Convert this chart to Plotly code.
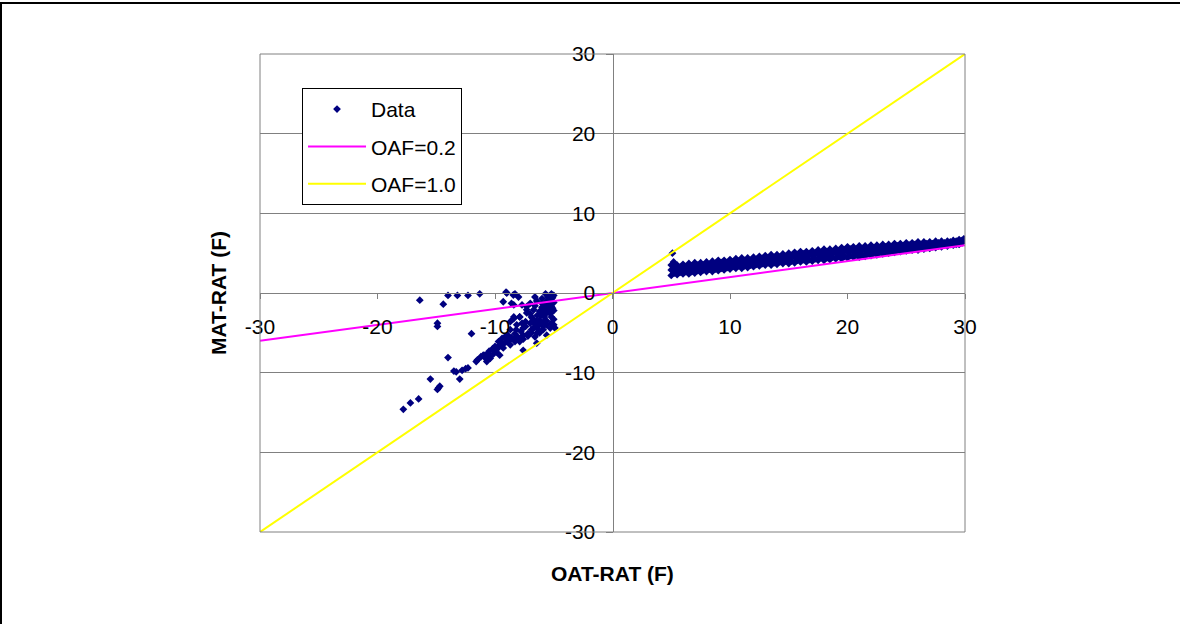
import plotly.graph_objects as go

# ---- measured points, OAT-RAT > 0 (economizer band) ----
# each column x carries several MAT-RAT readings
band_x = [
    5.0, 5.25, 5.5, 5.75, 6.0, 6.25, 6.5, 6.75, 7.0, 7.25,
    7.5, 7.75, 8.0, 8.25, 8.5, 8.75, 9.0, 9.25, 9.5, 9.75,
    10.0, 10.25, 10.5, 10.75, 11.0, 11.25, 11.5, 11.75, 12.0, 12.25,
    12.5, 12.75, 13.0, 13.25, 13.5, 13.75, 14.0, 14.25, 14.5, 14.75,
    15.0, 15.25, 15.5, 15.75, 16.0, 16.25, 16.5, 16.75, 17.0, 17.25,
    17.5, 17.75, 18.0, 18.25, 18.5, 18.75, 19.0, 19.25, 19.5, 19.75,
    20.0, 20.25, 20.5, 20.75, 21.0, 21.25, 21.5, 21.75, 22.0, 22.25,
    22.5, 22.75, 23.0, 23.25, 23.5, 23.75, 24.0, 24.25, 24.5, 24.75,
    25.0, 25.25, 25.5, 25.75, 26.0, 26.25, 26.5, 26.75, 27.0, 27.25,
    27.5, 27.75, 28.0, 28.25, 28.5, 28.75, 29.0, 29.25, 29.5, 29.75,
]
band_y = [
    [2.2, 2.9, 3.5], [2.5, 3.2], [2.3, 2.9, 3.5], [2.6, 3.2], [2.4, 3.0, 3.6],
    [2.7, 3.3], [2.4, 3.0, 3.7], [2.7, 3.4], [2.5, 3.1, 3.8], [2.8, 3.5],
    [2.6, 3.2, 3.8], [2.9, 3.5], [2.7, 3.3, 3.9], [3.0, 3.6], [2.7, 3.3, 4.0],
    [3.0, 3.7], [2.8, 3.4, 4.1], [3.1, 3.8], [2.9, 3.5, 4.1], [3.2, 3.8],
    [3.0, 3.6, 4.2], [3.3, 3.9], [3.1, 3.7, 4.3], [3.4, 4.0], [3.1, 3.7, 4.4],
    [3.4, 4.1], [3.2, 3.8, 4.4], [3.5, 4.1], [3.3, 3.9, 4.5], [3.6, 4.2],
    [3.4, 4.0, 4.6], [3.7, 4.3], [3.5, 4.1, 4.7], [3.8, 4.4], [3.5, 4.2, 4.8],
    [3.8, 4.5], [3.6, 4.2, 4.8], [3.9, 4.5], [3.7, 4.3, 4.9], [4.0, 4.6],
    [3.7, 4.4, 5.0], [4.0, 4.7], [3.8, 4.5, 5.1], [4.1, 4.8], [3.9, 4.5, 5.2],
    [4.2, 4.9], [3.9, 4.6, 5.2], [4.2, 4.9], [4.0, 4.7, 5.3], [4.3, 5.0],
    [4.1, 4.8, 5.4], [4.4, 5.1], [4.1, 4.8, 5.5], [4.4, 5.2], [4.2, 4.9, 5.5],
    [4.5, 5.2], [4.3, 5.0, 5.6], [4.6, 5.3], [4.3, 5.0, 5.7], [4.6, 5.4],
    [4.4, 5.1, 5.8], [4.7, 5.5], [4.5, 5.2, 5.8], [4.8, 5.5], [4.5, 5.2, 5.9],
    [4.8, 5.6], [4.6, 5.3, 5.9], [4.9, 5.6], [4.7, 5.4, 6.0], [5.0, 5.7],
    [4.8, 5.4, 6.0], [5.1, 5.7], [4.9, 5.5, 6.1], [5.2, 5.8], [5.0, 5.6, 6.1],
    [5.3, 5.8], [5.1, 5.6, 6.2], [5.4, 5.9], [5.2, 5.7, 6.2], [5.4, 5.9],
    [5.3, 5.8, 6.3], [5.5, 6.0], [5.4, 5.8, 6.3], [5.6, 6.1], [5.4, 5.9, 6.4],
    [5.6, 6.1], [5.5, 5.9, 6.4], [5.7, 6.2], [5.6, 6.0, 6.4], [5.8, 6.2],
    [5.7, 6.1, 6.5], [5.9, 6.3], [5.8, 6.2, 6.5], [6.0, 6.3], [5.9, 6.2, 6.5],
    [6.1, 6.4], [6.0, 6.3, 6.6], [6.1, 6.5], [6.1, 6.4, 6.7], [6.3, 6.6],
]
band_extra_x = [5.1, 5.2, 29.9]
band_extra_y = [5.0, 3.9, 6.8]

# ---- measured points, OAT-RAT < 0 ----
cold_x = [
    -17.8, -17.2, -16.5, -15.5, -14.9, -14.7, -14.8, -14.0, -13.5, -13.3,
    -13.0, -12.8, -12.5, -12.3, -12.0, -14.9, -14.9, -14.4, -16.4, -14.0,
    -13.2, -12.3, -11.3, -11.5, -11.6, -11.0, -10.6, -10.0, -9.6, -9.7,
    -9.15, -8.9, -8.7, -8.15, -8.3, -7.6, -7.4, -6.9, -7.2, -6.45,
    -6.2, -6.2, -5.6, -5.7, -5.3, -5.2, -5.2, -5.2, -5.6, -5.9,
    -6.6, -7.9, -8.7, -9.3, -9.9, -10.4, -9.0, -8.3, -8.0, -8.4,
    -9.3, -7.7, -7.3, -7.0, -6.6, -6.45, -6.0, -5.7, -5.2, -5.5,
    -6.7, -7.3, -7.9, -8.4, -8.7, -7.7, -6.7, -6.2, -6.9, -8.15,
    -9.0, -8.3, -7.6, -5.0, -5.0, -5.0, -5.0, -5.4, -5.8, -6.0,
    -6.4, -5.9, -5.3, -6.3, -6.8, -7.0, -6.6, -5.6, -9.06, -8.44,
    -8.6, -9.4, -10.1, -10.85, -10.7, -8.4, -4.9, -5.6, -6.45, -7.6,
    -9.6, -10.4, -7.9, -7.3, -6.0, -5.1, -5.4, -6.1, -5.8, -5.0,
    -10.2, -9.8, -9.5, -9.2, -9.0, -8.8, -8.6, -8.4, -8.2, -8.0,
    -7.8, -7.6, -7.4, -7.2, -7.0, -6.9, -6.7, -6.5, -6.4, -6.2,
    -6.1, -5.9, -5.8, -5.6, -5.5, -5.3, -5.1, -10.8, -11.2, -10.5,
]
cold_y = [
    -14.6, -13.8, -13.3, -10.8, -12.1, -11.7, -11.9, -8.1, -9.8, -9.9,
    -10.8, -9.7, -9.5, -9.4, -5.1, -3.8, -4.2, -1.4, -0.9, -0.3,
    -0.3, -0.3, -0.1, -8.4, -8.6, -7.8, -7.6, -6.7, -6.5, -6.1,
    -5.5, -5.3, -4.6, -4.0, -5.1, -4.4, -3.6, -3.0, -5.1, -4.2,
    -3.4, -2.3, -2.5, -1.5, -0.9, -1.7, -3.0, -3.8, -4.0, -4.6,
    -5.5, -6.1, -6.5, -6.9, -7.4, -8.0, 0.0, -0.1, -0.5, -1.5,
    -1.1, -1.5, -1.7, -1.3, -0.5, -1.0, -0.7, -0.1, -0.1, -0.5,
    -2.1, -2.5, -3.0, -3.0, -3.6, -3.8, -3.8, -5.0, -4.6, -5.5,
    -6.1, -6.1, -5.3, -0.3, -1.2, -2.2, -3.3, -2.0, -3.0, -1.8,
    -2.8, -3.7, -4.4, -4.6, -3.2, -2.6, -1.6, -1.0, 0.1, -0.25,
    -1.3, -5.7, -7.6, -7.8, -8.6, -3.2, -4.4, -5.3, -6.3, -7.2,
    -7.8, -8.2, -3.0, -2.1, -1.3, -0.6, -1.2, -2.4, -2.0, -4.0,
    -7.0, -7.0, -6.2, -6.3, -5.8, -6.0, -5.6, -5.8, -4.6, -5.6,
    -4.8, -5.8, -4.2, -5.4, -3.8, -5.0, -4.4, -3.5, -5.0, -3.9,
    -2.8, -4.2, -2.4, -3.5, -1.6, -2.6, -1.9, -8.2, -8.0, -7.3,
]

# ---- reference lines for outside-air fraction ----
oaf02_x = [-30, 0, 30]
oaf02_y = [-6, 0, 6]
oaf10_x = [-30, 0, 30]
oaf10_y = [-30, 0, 30]

tick_vals = [-30, -20, -10, 0, 10, 20, 30]
tick_text = ["-30", "-20", "-10", "0", "10", "20", "30"]

data_x = list(cold_x)
data_y = list(cold_y)
for x, ys in zip(band_x, band_y):
    data_x += [x] * len(ys)
    data_y += ys
data_x += band_extra_x
data_y += band_extra_y

FONT = "Liberation Sans, Arial, sans-serif"
GRAY = "#808080"

fig = go.Figure()
fig.add_trace(go.Scatter(
    x=data_x, y=data_y, mode="markers", name="Data",
    marker=dict(symbol="diamond", size=6, color="#000080", line=dict(width=0)),
    legendgroup="a",
))
fig.add_trace(go.Scatter(
    x=oaf02_x, y=oaf02_y, mode="lines", name="OAF=0.2",
    line=dict(color="#FF00FF", width=2), legendgroup="b",
))
fig.add_trace(go.Scatter(
    x=oaf10_x, y=oaf10_y, mode="lines", name="OAF=1.0",
    line=dict(color="#FFFF00", width=2), legendgroup="c",
))

axis_common = dict(
    range=[-30, 30], tickvals=tick_vals, ticktext=tick_text,
    anchor="free", position=0.5, showline=True, linecolor=GRAY, linewidth=1,
    ticks="outside", tickcolor=GRAY, tickwidth=1, zeroline=False,
    tickfont=dict(family=FONT, size=21, color="black"), fixedrange=True,
)
fig.update_xaxes(**axis_common, showgrid=False, ticklen=5, ticklabelstandoff=10)
fig.update_yaxes(**axis_common, showgrid=True, gridcolor=GRAY, gridwidth=1,
                 ticklen=7, ticklabelstandoff=6)

fig.update_layout(
    width=1180, height=624, autosize=False,
    margin=dict(l=260, r=215, t=54, b=92, pad=0),
    paper_bgcolor="white", plot_bgcolor="white",
    font=dict(family=FONT, size=21, color="black"),
    showlegend=True,
    legend=dict(
        x=0.0596, y=0.929, xanchor="left", yanchor="top",
        bgcolor="white", bordercolor="black", borderwidth=1,
        font=dict(family=FONT, size=21, color="black"),
        itemwidth=58, tracegroupgap=7, traceorder="grouped",
    ),
    shapes=[
        # plot-area border
        dict(type="rect", xref="paper", yref="paper", x0=0, y0=0, x1=1, y1=1,
             line=dict(color=GRAY, width=1), layer="above"),
        # outer frame (top and left edges)
        dict(type="line", xref="paper", yref="paper",
             x0=-260 / 705, x1=(1180 - 260) / 705,
             y0=(532 - 3) / 478, y1=(532 - 3) / 478,
             line=dict(color="black", width=2)),
        dict(type="line", xref="paper", yref="paper",
             x0=-259 / 705, x1=-259 / 705,
             y0=(532 - 624) / 478, y1=(532 - 2) / 478,
             line=dict(color="black", width=2)),
    ],
    annotations=[
        dict(text="<b>OAT-RAT (F)</b>", xref="paper", yref="paper",
             x=0.5, y=(532 - 573) / 478, showarrow=False,
             font=dict(family=FONT, size=21, color="black"),
             xanchor="center", yanchor="middle"),
        dict(text="<b>MAT-RAT (F)</b>", xref="paper", yref="paper",
             x=(218 - 260) / 705, y=0.5, showarrow=False, textangle=-90,
             font=dict(family=FONT, size=21, color="black"),
             xanchor="center", yanchor="middle"),
    ],
)

fig.write_html("out.html")
